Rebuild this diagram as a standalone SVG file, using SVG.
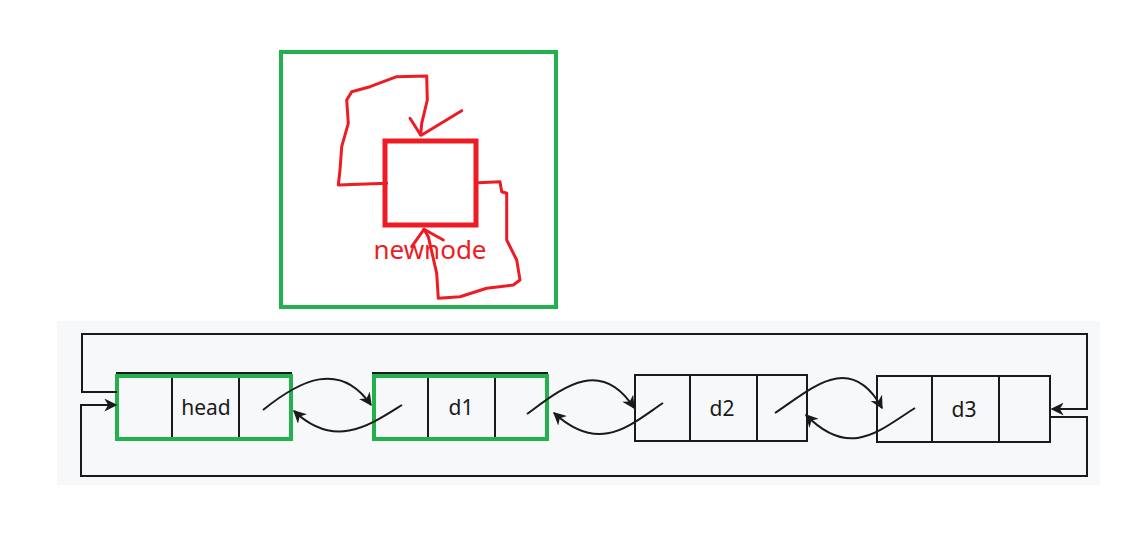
<svg xmlns="http://www.w3.org/2000/svg" width="1147" height="543" viewBox="0 0 1147 543">
<style>
.cell{fill:none;stroke:#1a1a1a;stroke-width:2}
.hl{fill:none;stroke:#22b14c;stroke-width:4}
.lbl{font-family:"Noto Sans","Liberation Sans",sans-serif;font-size:21px;fill:#1a1a1a;text-anchor:middle}
.con{fill:none;stroke:#1a1a1a;stroke-width:2}
.red{fill:none;stroke:#ed1c24;stroke-width:3;stroke-linecap:round;stroke-linejoin:round}
</style>
<defs>
<marker id="ah" viewBox="0 0 10 10" refX="9" refY="5" markerWidth="6.5" markerHeight="6.5" orient="auto" markerUnits="strokeWidth">
<path d="M0,0 L10,5 L0,10 L3,5 Z" fill="#1a1a1a"/>
</marker>
</defs>
<rect width="1147" height="543" fill="#ffffff"/>
<rect x="57" y="321" width="1043" height="164" fill="#f7f8fa"/>

<g id="newnode-frame">
<rect x="281" y="52" width="275" height="255" class="hl"/>
</g>
<g id="newnode">
<rect x="385" y="141" width="91" height="84" fill="none" stroke="#ed1c24" stroke-width="5"/>
<text x="430" y="259" font-family="Noto Sans,Liberation Sans,sans-serif" font-size="26" fill="#ed1c24" text-anchor="middle">newnode</text>
<path class="red" d="M386.7,183.3 L338.3,185 L340,170 L341.7,146.7 L348.3,123.3 L346.7,100 L351.7,91.7 L370,86.7 L396.7,76.7 L426.7,76 L427.3,100 L421.7,123.3 L420.7,135"/>
<path class="red" d="M410,118.3 L420.7,135 M461.7,110.7 L421.7,135"/>
<path class="red" d="M478.3,182.7 L500,181.7 L501.7,191.7 L506.7,193.3 L506.7,240 L516.7,260 L520,280 L513.3,285 L486.7,288.3 L460,296.7 L438.3,298.3 L436.7,273.3 L428.3,236.7 L424,229.3"/>
<path class="red" d="M411.7,246.7 L424,229.3 L443.3,240"/>
</g>

<g id="node-head">
<rect x="117" y="373" width="174" height="66" class="cell"/>
<line x1="172" y1="373" x2="172" y2="439" class="cell"/>
<line x1="239" y1="373" x2="239" y2="439" class="cell"/>
<text x="206" y="415" class="lbl">head</text>
<rect x="117" y="376" width="174" height="63" class="hl"/>
</g>
<g id="node-d1">
<rect x="373" y="373" width="174" height="66" class="cell"/>
<line x1="428" y1="373" x2="428" y2="439" class="cell"/>
<line x1="495" y1="373" x2="495" y2="439" class="cell"/>
<text x="461" y="415" class="lbl">d1</text>
<rect x="374" y="376" width="173" height="63" class="hl"/>
</g>
<g id="node-d2">
<rect x="635" y="375" width="172" height="66" class="cell"/>
<line x1="690" y1="375" x2="690" y2="441" class="cell"/>
<line x1="757" y1="375" x2="757" y2="441" class="cell"/>
<text x="722" y="416" class="lbl">d2</text>
</g>
<g id="node-d3">
<rect x="877" y="376" width="173" height="66" class="cell"/>
<line x1="932" y1="376" x2="932" y2="442" class="cell"/>
<line x1="999" y1="376" x2="999" y2="442" class="cell"/>
<text x="964" y="417" class="lbl">d3</text>
</g>

<g id="connectors">
<path class="con" d="M117,392 L82,392 L82,334 L1087,334 L1087,409 L1052,409" marker-end="url(#ah)"/>
<path class="con" d="M1050,417 L1087,417 L1087,476 L81,476 L81,405 L116,405" marker-end="url(#ah)"/>
<path class="con" d="M263,410 C300,380 340,360 371,405" marker-end="url(#ah)"/>
<path class="con" d="M402,405 C370,425 335,450 294,411" marker-end="url(#ah)"/>
<path class="con" d="M527,414 C560,390 600,355 634,408" marker-end="url(#ah)"/>
<path class="con" d="M663,403 C630,425 600,455 554,413" marker-end="url(#ah)"/>
<path class="con" d="M775,413 C810,390 850,350 882,408" marker-end="url(#ah)"/>
<path class="con" d="M915,408 C880,430 850,460 806,415" marker-end="url(#ah)"/>
</g>
</svg>
